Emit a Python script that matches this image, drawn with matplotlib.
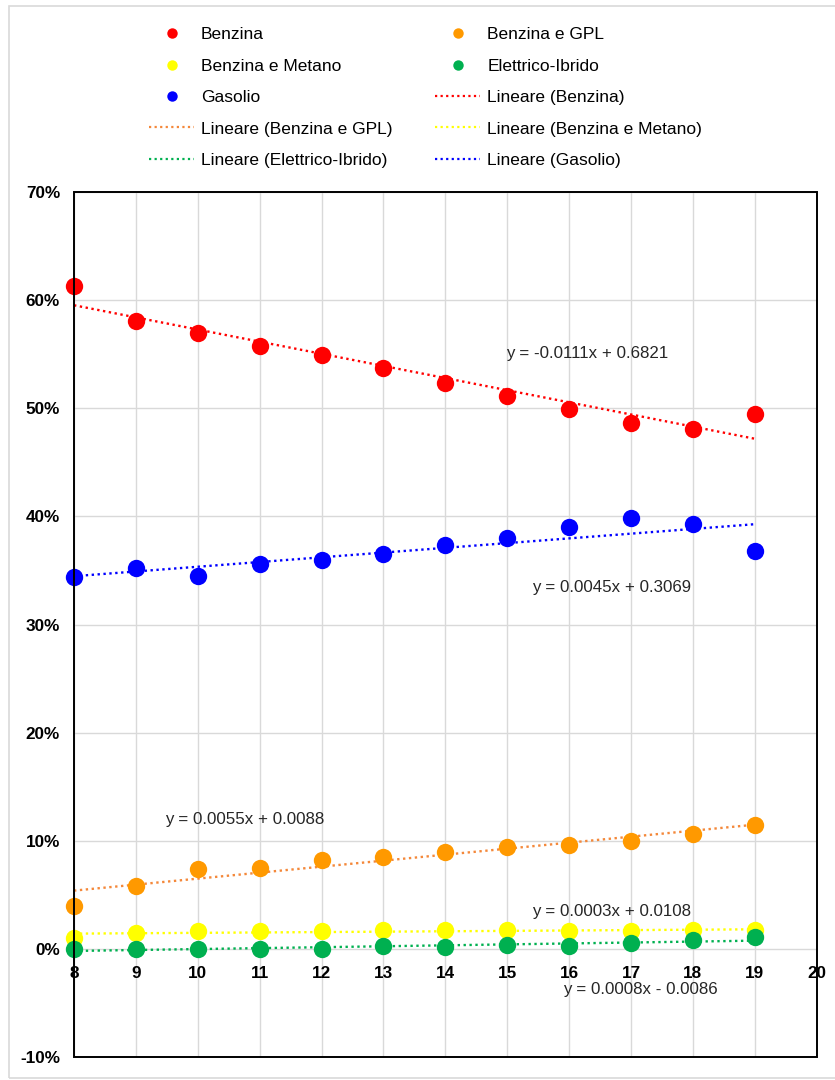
import numpy as np
import matplotlib
matplotlib.use("Agg")
import matplotlib.pyplot as plt
from matplotlib.lines import Line2D
from matplotlib.patches import Rectangle

plt.rcParams['font.family'] = ['Liberation Sans', 'DejaVu Sans']

years = [8, 9, 10, 11, 12, 13, 14, 15, 16, 17, 18, 19]
benzina = [0.613, 0.581, 0.570, 0.558, 0.549, 0.537, 0.523, 0.511, 0.499, 0.486, 0.481, 0.495]
benzina_gpl = [0.040, 0.058, 0.074, 0.075, 0.082, 0.085, 0.090, 0.094, 0.096, 0.100, 0.106, 0.115]
benzina_metano = [0.010, 0.015, 0.017, 0.0165, 0.0165, 0.018, 0.0175, 0.0175, 0.0165, 0.0165, 0.0175, 0.0175]
elettrico_ibrido = [0.0005, 0.0002, 0.0002, 0.0002, 0.0002, 0.0026, 0.002, 0.0035, 0.003, 0.0057, 0.008, 0.011]
gasolio = [0.344, 0.352, 0.345, 0.356, 0.360, 0.365, 0.374, 0.380, 0.390, 0.399, 0.393, 0.368]

series_names = ["Benzina", "Benzina e GPL", "Benzina e Metano", "Elettrico-Ibrido", "Gasolio"]
series_values = [benzina, benzina_gpl, benzina_metano, elettrico_ibrido, gasolio]
marker_colors = ["#FF0000", "#FF9900", "#FFFF00", "#00B050", "#0000FF"]
line_colors = ["#FF0000", "#F4883A", "#FFFF00", "#00B050", "#0000FF"]
equations = ["y = -0.0111x + 0.6821", "y = 0.0055x + 0.0088", "y = 0.0003x + 0.0108",
             "y = 0.0008x - 0.0086", "y = 0.0045x + 0.3069"]
eq_pos = [(16.29, 0.551), (10.75, 0.120), (16.69, 0.0346), (17.15, -0.0369), (16.69, 0.334)]

x_ticks = list(range(8, 21))
y_ticks = [-0.1, 0.0, 0.1, 0.2, 0.3, 0.4, 0.5, 0.6, 0.7]

W, H = 835, 1080
fig = plt.figure(figsize=(W / 100, H / 100), dpi=100)
ax = fig.add_axes([74 / W, (H - 1057.3) / H, (816.7 - 74) / W, (1057.3 - 192) / H])

for s in ['top', 'right', 'left']:
    ax.spines[s].set_visible(False)
ax.spines['bottom'].set_position(('data', 0))
ax.spines['bottom'].set_visible(False)

ax.set_xlim(8, 20)
ax.set_ylim(-0.1, 0.7)
ax.set_xticks(x_ticks)
ax.set_yticks(y_ticks)
ax.set_xticklabels([str(t) for t in x_ticks], fontsize=12.3, fontweight='bold')
ax.set_yticklabels([f"{round(t * 100):d}%" for t in y_ticks], fontsize=12.3, fontweight='bold')
ax.grid(True, color="#D9D9D9", lw=1.0)
ax.set_axisbelow(True)
ax.tick_params(axis='both', length=0)
ax.tick_params(axis='y', pad=10)
ax.tick_params(axis='x', pad=12)
ax.add_patch(Rectangle((0, 0), 1, 1, transform=ax.transAxes, fill=False,
                       edgecolor="black", lw=1.4, clip_on=False, zorder=10))

dot = (0, (1, 1.5))
xs = np.array(years, dtype=float)
marker_handles = []
line_handles = []
for name, vals, mc, lc in zip(series_names, series_values, marker_colors, line_colors):
    k, b = np.polyfit(xs, np.array(vals), 1)
    ax.plot([xs[0], xs[-1]], [k * xs[0] + b, k * xs[-1] + b], color=lc, lw=1.7,
            linestyle=dot, zorder=2)
for name, vals, mc, lc in zip(series_names, series_values, marker_colors, line_colors):
    ax.plot(xs, vals, linestyle='none', marker='o', ms=12.5, mew=0, color=mc, zorder=3,
            clip_on=False)
    marker_handles.append(Line2D([], [], linestyle='none', marker='o', ms=7.5, mew=0,
                                 color=mc, label=name))
    line_handles.append(Line2D([], [], color=lc, lw=1.6, linestyle=dot,
                               label=f"Lineare ({name})"))

for eq, (ex, ey) in zip(equations, eq_pos):
    ax.text(ex, ey, eq, fontsize=12.2, ha='center', va='center', color="#262626", zorder=5)

# Excel-style row-wise order -> matplotlib column-major
items = marker_handles + line_handles
order_rows = [items[i:i + 2] for i in range(0, len(items), 2)]
col1 = [r[0] for r in order_rows]
col2 = [r[1] for r in order_rows]
handles = col1 + col2
fig.legend(handles=handles, labels=[h.get_label() for h in handles], ncol=2,
           loc='upper left', bbox_to_anchor=(149 / W, 1 - 27 / H),
           bbox_transform=fig.transFigure, frameon=False, fontsize=12.5,
           borderpad=0, borderaxespad=0, handlelength=2.6, handletextpad=0.4,
           columnspacing=2.45, labelspacing=0.94)

fig.patches.append(Rectangle((9 / W, 1 - 1078 / H), (W + 10) / W, (1078 - 6) / H,
                             transform=fig.transFigure, fill=False,
                             edgecolor="#D9D9D9", lw=1.2))

fig.savefig("out.png", dpi=100, facecolor="white")
